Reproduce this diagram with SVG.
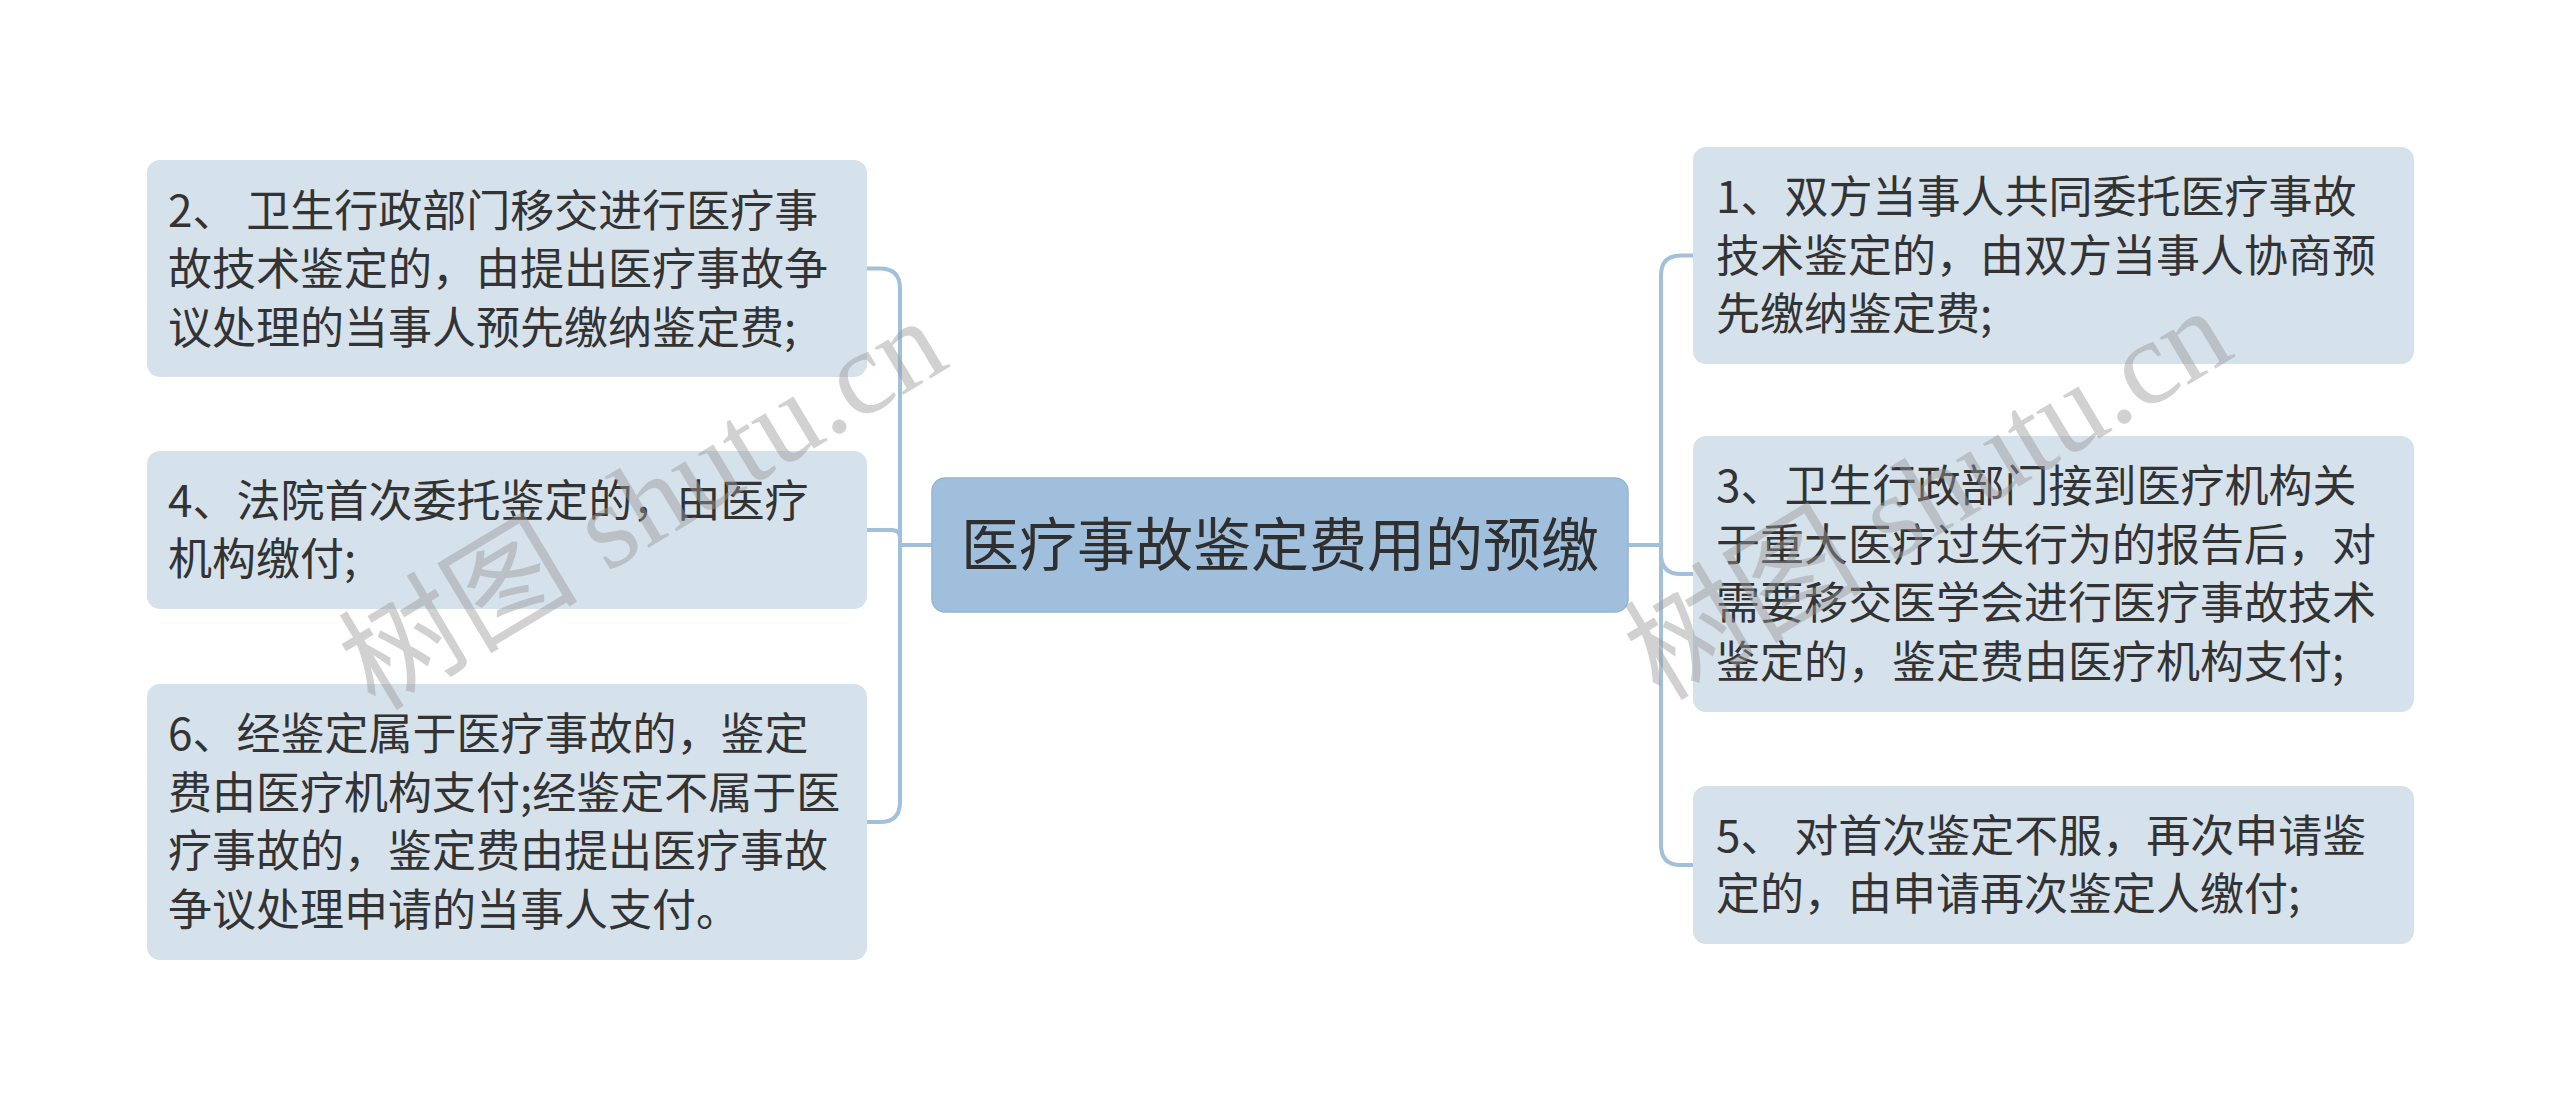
<svg xmlns="http://www.w3.org/2000/svg" width="2560" height="1105" viewBox="0 0 2560 1105">
<style>
.bg{fill:#ffffff}
.sub{fill:#d5e1eb}
.root{fill:#a0bfdc;stroke:#95b5d3;stroke-width:1.5}
.t{font-family:"Noto Sans CJK SC","Noto Sans",sans-serif;font-size:44px;fill:#333333}
.rt{font-family:"Noto Sans CJK SC","Noto Sans",sans-serif;font-size:58px;fill:#2f2f2f;text-anchor:middle}
.c{fill:none;stroke:#a3c0da;stroke-width:4}
.wm{font-family:"Liberation Serif","Noto Sans CJK SC",serif;font-size:120px;fill:#999999;fill-opacity:0.45}
</style>
<rect class="bg" x="0" y="0" width="2560" height="1105"/>
<g id="connectors">
<path class="c" d="M932,545 H900 V288.5 Q900,268.5 880,268.5 H867"/>
<path class="c" d="M932,545 H900 V538 Q900,530 892,530 H867"/>
<path class="c" d="M932,545 H900 V802 Q900,822 880,822 H867"/>
<path class="c" d="M1628,545 H1661 V275.5 Q1661,255.5 1681,255.5 H1693"/>
<path class="c" d="M1628,545 H1661 V554 Q1661,574 1681,574 H1693"/>
<path class="c" d="M1628,545 H1661 V845 Q1661,865 1681,865 H1693"/>
</g>
<g id="root">
<rect class="root" x="932" y="478" width="696" height="134" rx="13"/>
<text class="rt" x="1280" y="566">医疗事故鉴定费用的预缴</text>
</g>
<g id="n2">
<rect class="sub" x="147" y="160" width="720" height="217" rx="13"/>
<text class="t" x="168" y="227">2、 卫生行政部门移交进行医疗事</text>
<text class="t" x="168" y="285">故技术鉴定的，由提出医疗事故争</text>
<text class="t" x="168" y="344">议处理的当事人预先缴纳鉴定费;</text>
</g>
<g id="n4">
<rect class="sub" x="147" y="451" width="720" height="158" rx="13"/>
<text class="t" x="168" y="517">4、法院首次委托鉴定的，由医疗</text>
<text class="t" x="168" y="575">机构缴付;</text>
</g>
<g id="n6">
<rect class="sub" x="147" y="684" width="720" height="276" rx="13"/>
<text class="t" x="168" y="750">6、经鉴定属于医疗事故的，鉴定</text>
<text class="t" x="168" y="809">费由医疗机构支付;经鉴定不属于医</text>
<text class="t" x="168" y="867">疗事故的，鉴定费由提出医疗事故</text>
<text class="t" x="168" y="926">争议处理申请的当事人支付。</text>
</g>
<g id="n1">
<rect class="sub" x="1693" y="147" width="721" height="217" rx="13"/>
<text class="t" x="1716" y="213">1、双方当事人共同委托医疗事故</text>
<text class="t" x="1716" y="272">技术鉴定的，由双方当事人协商预</text>
<text class="t" x="1716" y="330">先缴纳鉴定费;</text>
</g>
<g id="n3">
<rect class="sub" x="1693" y="436" width="721" height="276" rx="13"/>
<text class="t" x="1716" y="502">3、卫生行政部门接到医疗机构关</text>
<text class="t" x="1716" y="561">于重大医疗过失行为的报告后，对</text>
<text class="t" x="1716" y="619">需要移交医学会进行医疗事故技术</text>
<text class="t" x="1716" y="678">鉴定的，鉴定费由医疗机构支付;</text>
</g>
<g id="n5">
<rect class="sub" x="1693" y="786" width="721" height="158" rx="13"/>
<text class="t" x="1716" y="852">5、 对首次鉴定不服，再次申请鉴</text>
<text class="t" x="1716" y="910">定的，由申请再次鉴定人缴付;</text>
</g>
<g id="watermark">
<text class="wm" x="0" y="0" transform="translate(375,712) rotate(-31)">树图 shutu.cn</text>
<text class="wm" x="0" y="0" transform="translate(1660,702) rotate(-31)">树图 shutu.cn</text>
</g>
</svg>
